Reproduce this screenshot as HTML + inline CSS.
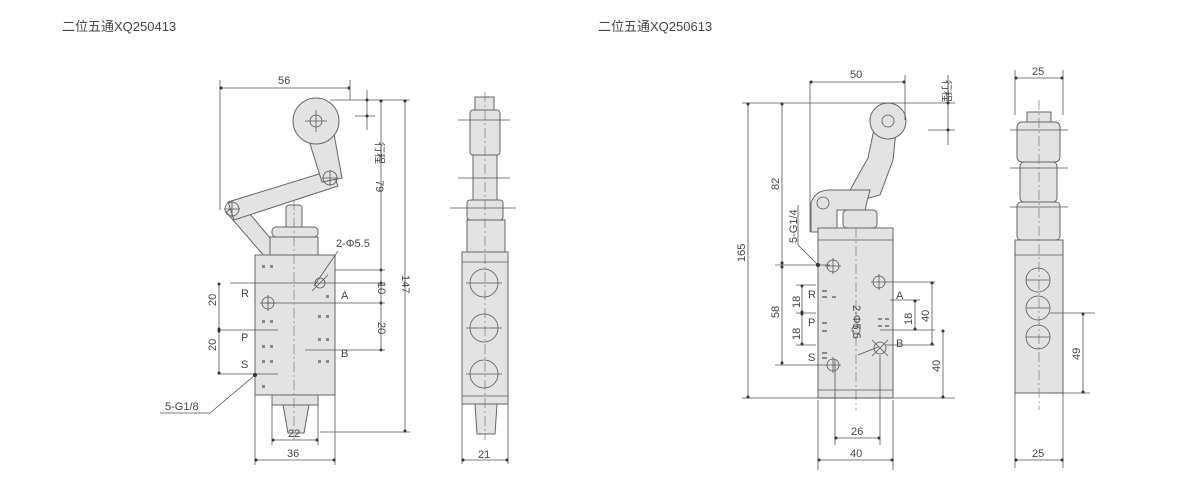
<!DOCTYPE html>
<html><head><meta charset="utf-8"><style>
body{margin:0;background:#fff;}
svg{display:block}
text{font-family:"Liberation Sans","Noto Sans CJK SC",sans-serif;fill:#444;font-size:11px}
.b{fill:#e3e3e3;stroke:#666;stroke-width:1}
.l{stroke:#555;stroke-width:0.8;fill:none}
.c{stroke:#777;stroke-width:0.7;fill:none;stroke-dasharray:10 3 2 3}
.d{fill:#333}
</style></head><body>
<svg width="1200" height="500" viewBox="0 0 1200 500">
<text x="62" y="31" font-size="13" style="font-size:13px">二位五通XQ250413</text>
<text x="598" y="31" style="font-size:13px">二位五通XQ250613</text>

<!-- ===== LEFT FRONT VIEW ===== -->
<!-- lever diag -->
<polygon class="b" points="226,212 240,202 280,250 266,258"/>
<polygon class="b" points="228,202 332,170 338,186 234,220"/>
<polygon class="b" points="300,112 330,112 342,178 322,182"/>
<circle class="b" cx="316" cy="121" r="23"/>
<circle class="l" cx="316" cy="121" r="6"/>
<circle class="l" cx="330" cy="178" r="7"/>
<circle class="l" cx="232" cy="209" r="7"/>
<path class="l" d="M305 121h22M316 110v22M322 178h16M330 170v16M224 209h16M232 201v16"/>
<!-- stem & nut -->
<rect class="b" x="286" y="205" width="16" height="23" rx="3"/>
<rect class="b" x="272" y="227" width="46" height="10" rx="4"/>
<rect class="b" x="270" y="237" width="48" height="18"/>
<rect class="b" x="255" y="255" width="80" height="140"/>
<rect class="b" x="272" y="395" width="46" height="10"/>
<polygon class="b" points="283,405 309,405 304,433 288,433"/>
<line class="c" x1="294" y1="200" x2="294" y2="440"/>
<circle class="l" cx="268" cy="303" r="6"/><path class="l" d="M260 303h16M268 295v16"/>
<circle class="l" cx="320" cy="283" r="5"/><path class="l" d="M312 291l16-16"/>
<g fill="#888"><rect x="262" y="265" width="3" height="3"/><rect x="270" y="265" width="3" height="3"/><rect x="262" y="320" width="3" height="3"/><rect x="270" y="320" width="3" height="3"/><rect x="262" y="345" width="3" height="3"/><rect x="270" y="345" width="3" height="3"/><rect x="262" y="360" width="3" height="3"/><rect x="270" y="360" width="3" height="3"/><rect x="262" y="385" width="3" height="3"/><rect x="318" y="315" width="3" height="3"/><rect x="326" y="315" width="3" height="3"/><rect x="318" y="338" width="3" height="3"/><rect x="326" y="338" width="3" height="3"/><rect x="318" y="360" width="3" height="3"/><rect x="326" y="360" width="3" height="3"/><rect x="326" y="295" width="3" height="3"/></g>
<!-- dims -->
<path class="l" d="M220 88h130M220 80v130M350 80v20"/>
<circle class="d" cx="221" cy="88" r="1.5"/><circle class="d" cx="349" cy="88" r="1.5"/>
<text x="278" y="84">56</text>
<path class="l" d="M330 100h80M320 432h90M381 100v250M405 100v332M367 90v40M355 116h20"/>
<circle class="d" cx="367" cy="100" r="1.5"/><circle class="d" cx="367" cy="116" r="1.5"/>
<circle class="d" cx="381" cy="101" r="1.5"/><circle class="d" cx="381" cy="270" r="1.5"/><circle class="d" cx="381" cy="283" r="1.5"/><circle class="d" cx="381" cy="303" r="1.5"/><circle class="d" cx="381" cy="350" r="1.5"/>
<circle class="d" cx="405" cy="101" r="1.5"/><circle class="d" cx="405" cy="431" r="1.5"/>
<text transform="translate(376,142) rotate(90)">行程</text>
<text transform="translate(376,180) rotate(90)">79</text>
<text transform="translate(402,275) rotate(90)">147</text>
<text transform="translate(378,282) rotate(90)">10</text>
<text transform="translate(378,322) rotate(90)">20</text>
<path class="l" d="M335 270h50M230 283h155M265 303h120M218 330h60M305 350h80M218 374h60M219 283v91"/>
<circle class="d" cx="219" cy="284" r="1.5"/><circle class="d" cx="219" cy="329" r="1.5"/><circle class="d" cx="219" cy="331" r="1.5"/><circle class="d" cx="219" cy="373" r="1.5"/>
<text transform="translate(216,306) rotate(-90)">20</text>
<text transform="translate(216,351) rotate(-90)">20</text>
<text x="241" y="297">R</text><text x="241" y="341">P</text><text x="241" y="368">S</text>
<text x="341" y="299">A</text><text x="341" y="357">B</text>
<text x="336" y="247">2-Φ5.5</text>
<path class="l" d="M338 251l-24 35"/>
<path class="l" d="M160 413h50l45-38"/><circle class="d" cx="255" cy="375" r="2"/>
<text x="165" y="410">5-G1/8</text>
<path class="l" d="M272 405v40M318 405v40M255 395v70M335 395v70M272 440h46M255 460h80"/>
<circle class="d" cx="273" cy="440" r="1.5"/><circle class="d" cx="317" cy="440" r="1.5"/><circle class="d" cx="256" cy="460" r="1.5"/><circle class="d" cx="334" cy="460" r="1.5"/>
<text x="288" y="437">22</text><text x="287" y="457">36</text>

<!-- ===== LEFT SIDE VIEW ===== -->
<rect class="b" x="475" y="97" width="19" height="20"/>
<rect class="b" x="470" y="110" width="30" height="45" rx="3"/>
<rect class="b" x="473" y="155" width="24" height="65"/>
<rect class="b" x="467" y="200" width="36" height="20" rx="3"/>
<rect class="b" x="467" y="220" width="38" height="32"/>
<rect class="b" x="462" y="252" width="46" height="152"/>
<polygon class="b" points="475,404 497,404 495,434 477,434"/>
<line class="c" x1="485" y1="92" x2="485" y2="440"/>
<path class="l" d="M458 120h52M458 178h52M450 208h66M462 262h46M462 396h46"/>
<circle class="l" cx="484" cy="283" r="14"/><circle class="l" cx="484" cy="328" r="14"/><circle class="l" cx="484" cy="374" r="14"/>
<path class="l" d="M466 283h36M466 328h36M466 374h36"/>
<path class="l" d="M462 404v60M508 404v60M462 460h46"/>
<circle class="d" cx="463" cy="460" r="1.5"/><circle class="d" cx="507" cy="460" r="1.5"/>
<text x="478" y="458">21</text>

<!-- ===== RIGHT FRONT VIEW ===== -->
<polygon class="b" points="878,110 898,112 893,160 880,195 862,200 850,190 868,158"/>
<circle class="b" cx="888" cy="121" r="18"/>
<circle class="l" cx="888" cy="121" r="6"/>
<path class="b" d="M811 203 Q815 190 830 190 L870 190 L865 210 L837 210 L837 232 L811 232 Z"/>
<circle class="l" cx="823" cy="203" r="6"/>
<rect class="b" x="843" y="210" width="34" height="18" rx="4"/>
<rect class="b" x="818" y="228" width="75" height="170"/>
<line class="c" x1="856" y1="228" x2="856" y2="410"/>
<path class="l" d="M818 240h75M818 390h75"/>
<circle class="l" cx="833" cy="266" r="6"/><path class="l" d="M825 266h16M833 258v16"/>
<circle class="l" cx="879" cy="282" r="6"/><path class="l" d="M871 282h16M879 274v16"/>
<circle class="l" cx="833" cy="365" r="6"/><path class="l" d="M825 365h16M833 357v16"/>
<circle class="l" cx="880" cy="348" r="6"/><path class="l" d="M872 340l16 16M872 356l16-16"/>
<circle class="l" cx="856" cy="330" r="4"/>
<g fill="#888"><rect x="822" y="290" width="5" height="2"/><rect x="822" y="296" width="5" height="2"/><rect x="832" y="296" width="4" height="2"/><rect x="822" y="322" width="5" height="2"/><rect x="822" y="330" width="5" height="2"/><rect x="822" y="352" width="5" height="2"/><rect x="822" y="357" width="5" height="2"/><rect x="878" y="318" width="4" height="2"/><rect x="885" y="318" width="4" height="2"/><rect x="878" y="325" width="4" height="2"/><rect x="885" y="325" width="4" height="2"/></g>
<path class="l" d="M810 82h95M810 82v150M905 75v45"/>
<circle class="d" cx="811" cy="82" r="1.5"/><circle class="d" cx="904" cy="82" r="1.5"/>
<text x="850" y="78">50</text>
<path class="l" d="M742 103h213M742 398h213M948 75v70M928 130h27M748 103v295M782 103v260"/>
<circle class="d" cx="948" cy="103" r="1.5"/><circle class="d" cx="948" cy="130" r="1.5"/>
<circle class="d" cx="748" cy="104" r="1.5"/><circle class="d" cx="748" cy="397" r="1.5"/>
<circle class="d" cx="782" cy="104" r="1.5"/><circle class="d" cx="782" cy="263" r="1.5"/><circle class="d" cx="782" cy="267" r="1.5"/><circle class="d" cx="782" cy="363" r="1.5"/>
<text transform="translate(943,80) rotate(90)">行程</text>
<text transform="translate(745,262) rotate(-90)">165</text>
<text transform="translate(779,190) rotate(-90)">82</text>
<text transform="translate(779,318) rotate(-90)">58</text>
<path class="l" d="M775 265h55M775 365h50M796 285h20M796 313h20M796 345h20M802 285v60"/>
<circle class="d" cx="802" cy="286" r="1.5"/><circle class="d" cx="802" cy="312" r="1.5"/><circle class="d" cx="802" cy="314" r="1.5"/><circle class="d" cx="802" cy="344" r="1.5"/>
<text transform="translate(800,308) rotate(-90)">18</text>
<text transform="translate(800,340) rotate(-90)">18</text>
<text x="808" y="298">R</text><text x="808" y="326">P</text><text x="808" y="361">S</text>
<text transform="translate(797,243) rotate(-90)">5-G1/4</text>
<path class="l" d="M798 205v40l20 20"/><circle class="d" cx="818" cy="265" r="2"/>
<text x="896" y="299">A</text><text x="896" y="347">B</text>
<path class="l" d="M885 282h50M890 300h30M880 330h55M885 345h50M915 300v30M932 282v63M943 330v68"/>
<circle class="d" cx="915" cy="301" r="1.5"/><circle class="d" cx="915" cy="329" r="1.5"/><circle class="d" cx="932" cy="283" r="1.5"/><circle class="d" cx="932" cy="344" r="1.5"/><circle class="d" cx="943" cy="331" r="1.5"/><circle class="d" cx="943" cy="397" r="1.5"/>
<text transform="translate(912,325) rotate(-90)">18</text>
<text transform="translate(929,322) rotate(-90)">40</text>
<text transform="translate(940,372) rotate(-90)">40</text>
<text transform="translate(853,305) rotate(90)">2-Φ5.5</text>
<path class="l" d="M858 355l20-8"/>
<path class="l" d="M818 400v70M893 400v70M835 360v85M880 355v90M835 438h45M818 460h75"/>
<circle class="d" cx="836" cy="438" r="1.5"/><circle class="d" cx="879" cy="438" r="1.5"/><circle class="d" cx="819" cy="460" r="1.5"/><circle class="d" cx="892" cy="460" r="1.5"/>
<text x="851" y="435">26</text><text x="850" y="457">40</text>

<!-- ===== RIGHT SIDE VIEW ===== -->
<rect class="b" x="1027" y="112" width="24" height="20"/>
<rect class="b" x="1017" y="122" width="43" height="40" rx="5"/>
<rect class="b" x="1020" y="162" width="37" height="40" rx="4"/>
<rect class="b" x="1017" y="202" width="43" height="38" rx="4"/>
<rect class="b" x="1015" y="240" width="48" height="153"/>
<line class="c" x1="1039" y1="100" x2="1039" y2="410"/>
<path class="l" d="M1010 130h58M1010 168h58M1010 207h58M1015 255h48"/>
<circle class="l" cx="1038" cy="280" r="12"/><circle class="l" cx="1038" cy="308" r="12"/><circle class="l" cx="1038" cy="337" r="12"/>
<path class="l" d="M1026 280h24M1026 308h24M1026 337h24M1050 313h45M1050 393h40M1083 313v80"/>
<circle class="d" cx="1083" cy="314" r="1.5"/><circle class="d" cx="1083" cy="392" r="1.5"/>
<text transform="translate(1080,360) rotate(-90)">49</text>
<path class="l" d="M1015 70v45M1063 70v45M1015 78h48M1015 393v75M1063 393v75M1015 460h48"/>
<circle class="d" cx="1016" cy="78" r="1.5"/><circle class="d" cx="1062" cy="78" r="1.5"/><circle class="d" cx="1016" cy="460" r="1.5"/><circle class="d" cx="1062" cy="460" r="1.5"/>
<text x="1032" y="75">25</text><text x="1032" y="457">25</text>
</svg>
</body></html>
